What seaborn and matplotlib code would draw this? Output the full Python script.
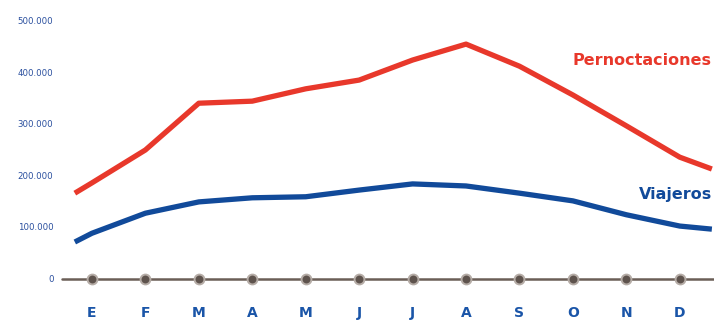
import numpy as np
import pandas as pd
import matplotlib
matplotlib.use("Agg")
import matplotlib.pyplot as plt
import seaborn as sns

# datos (posicion en meses, valor)
meses = ["E", "F", "M", "A", "M", "J", "J", "A", "S", "O", "N", "D"]
pos = [-0.32, 0, 1, 2, 3, 4, 5, 6, 7, 8, 9, 10, 11, 11.6]
pernoctaciones = [167000, 187000, 251000, 342000, 346000, 370000, 387000,
                  426000, 457000, 414000, 358000, 298000, 237000, 214000]
viajeros = [72000, 89000, 128000, 150000, 158000, 160000, 173000,
            185000, 181000, 167000, 152000, 125000, 103000, 97000]
yticks = [0, 100000, 200000, 300000, 400000, 500000]
ytick_labels = ["0", "100.000", "200.000", "300.000", "400.000", "500.000"]

rojo = "#e8382b"
azul = "#114a9a"
gris = "#6b5e57"

sns.set_style("white")
plt.rcParams['font.family'] = ['DejaVu Sans']

fig = plt.figure(figsize=(7.14, 3.21), dpi=100)
ax = fig.add_axes([0, 0, 1, 1])

df = pd.DataFrame({"pos": pos, "Pernoctaciones": pernoctaciones, "Viajeros": viajeros})
sns.lineplot(data=df, x="pos", y="Pernoctaciones", color=rojo, lw=3.8,
             ax=ax, solid_capstyle="butt", solid_joinstyle="round")
sns.lineplot(data=df, x="pos", y="Viajeros", color=azul, lw=3.8,
             ax=ax, solid_capstyle="butt", solid_joinstyle="round")

ax.set_xlim(-1.72, 11.64)
ax.set_ylim(-81700, 542800)

# eje base con marcadores
ax.axhline(0, xmin=62 / 714, xmax=1, color=gris, lw=1.8, zorder=3)
ax.scatter(range(len(meses)), [0] * len(meses), s=50, color="#5e534d",
           edgecolor="#b5aca6", linewidth=1.4, zorder=4)

# etiquetas de los ejes
for v, t in zip(yticks, ytick_labels):
    ax.text(-0.72, v, t, ha="right", va="center", fontsize=6.2, color="#2a4f9e")
for i, m in enumerate(meses):
    ax.text(i, -66000, m, ha="center", va="center", fontsize=10,
            fontweight="bold", color="#1a55a8")

ax.text(11.6, 426000, "Pernoctaciones", ha="right", va="center",
        fontsize=11.5, fontweight="bold", color=rojo)
ax.text(11.6, 164000, "Viajeros", ha="right", va="center",
        fontsize=11.5, fontweight="bold", color=azul)

ax.set_xlabel("")
ax.set_ylabel("")
ax.set_xticks([])
ax.set_yticks([])
sns.despine(ax=ax, left=True, bottom=True)

fig.savefig("out.png", dpi=100)
